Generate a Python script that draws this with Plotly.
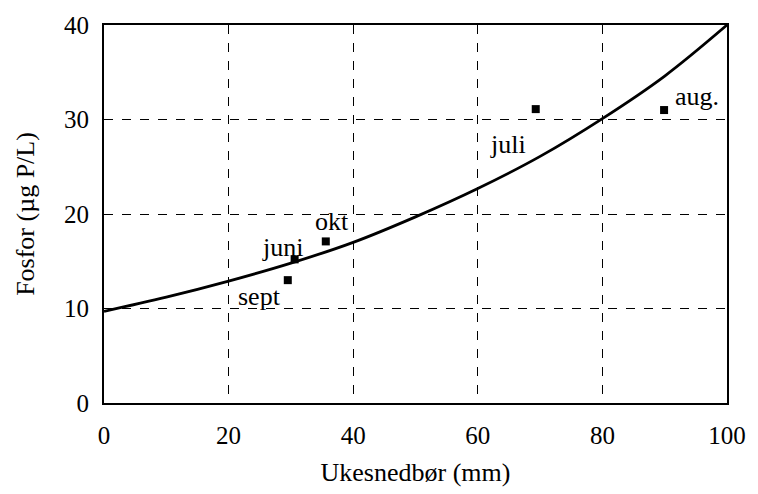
import plotly.graph_objects as go

# Fitted curve
curve_x = [0, 10, 20, 30, 40, 50, 60, 70, 80, 90, 100]
curve_y = [9.7, 11.2, 12.9, 14.8, 17.0, 19.7, 22.7, 26.1, 30.1, 34.6, 40.0]

# Monthly observations
month_labels = ["juni", "sept", "okt", "juli", "aug."]
month_x = [30.6, 29.5, 35.6, 69.3, 89.9]
month_y = [15.2, 13.0, 17.1, 31.1, 31.0]

# Label placements (data coordinates)
label_x = [28.6, 25.0, 36.6, 64.8, 95.2]
label_y = [16.5, 11.3, 19.2, 27.4, 32.4]

x_ticks = [0, 20, 40, 60, 80, 100]
y_ticks = [0, 10, 20, 30, 40]

font_family = "Liberation Serif, Times New Roman, serif"

fig = go.Figure()
fig.add_trace(go.Scatter(
    x=curve_x, y=curve_y, mode="lines",
    line=dict(color="black", width=2.8, shape="spline"),
    hoverinfo="skip", showlegend=False,
))
fig.add_trace(go.Scatter(
    x=month_x, y=month_y, mode="markers",
    marker=dict(symbol="square", size=8, color="black"),
    showlegend=False,
))
for t, lx, ly in zip(month_labels, label_x, label_y):
    fig.add_annotation(x=lx, y=ly, text=t, showarrow=False,
                       font=dict(family=font_family, size=26, color="black"))

axis_common = dict(
    showgrid=True, gridcolor="black", gridwidth=1, griddash="dash",
    showline=True, linecolor="black", linewidth=2, mirror=True,
    zeroline=False, ticks="", tickfont=dict(family=font_family, size=25, color="black"),
    title_font=dict(family=font_family, size=26, color="black"),
)

fig.update_xaxes(range=[0, 100], tickvals=x_ticks, ticklabelstandoff=9,
                 title_text="Ukesnedbør (mm)", title_standoff=15, **axis_common)
fig.update_yaxes(range=[0, 40], tickvals=y_ticks, ticklabelstandoff=8,
                 title_text="Fosfor (µg P/L)", title_standoff=22, **axis_common)

fig.update_layout(
    width=758, height=494,
    margin=dict(l=104, r=21, t=21, b=85),
    plot_bgcolor="white", paper_bgcolor="white",
    font=dict(family=font_family, color="black"),
)

fig.write_html("out.html", config={"displayModeBar": False},
               post_script="document.body.style.margin='0';")
